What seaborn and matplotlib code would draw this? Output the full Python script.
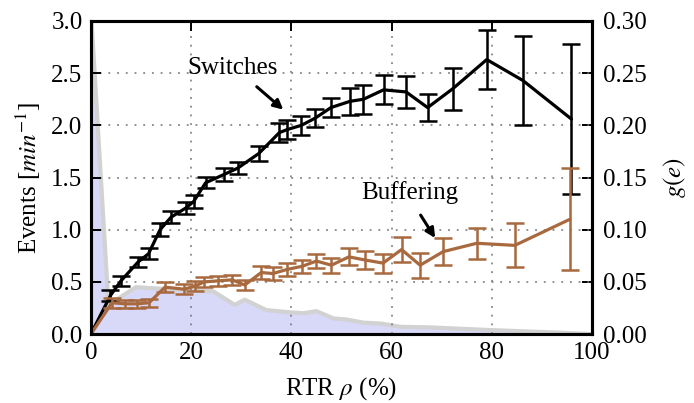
import numpy as np
import pandas as pd
import matplotlib
matplotlib.use("Agg")
import matplotlib.pyplot as plt
import seaborn as sns

# ---- data ----
sw_x = [0, 3.9, 6.0, 9.4, 11.5, 13.8, 16.0, 19.0, 20.5, 22.9, 26.6, 29.3, 33.5,
        37.6, 39.2, 42.0, 44.8, 47.9, 51.7, 54.4, 58.4, 62.9, 67.2, 72.2, 79.0, 86.2, 95.9]
sw_y = [0, 0.37, 0.51, 0.69, 0.77, 1.00, 1.12, 1.21, 1.27, 1.45, 1.53, 1.59, 1.73,
        1.93, 1.96, 2.00, 2.07, 2.17, 2.23, 2.25, 2.34, 2.32, 2.17, 2.35, 2.63, 2.43, 2.06]
sw_e = [0, 0.05, 0.05, 0.05, 0.05, 0.06, 0.06, 0.06, 0.06, 0.055, 0.06, 0.06, 0.075,
        0.09, 0.09, 0.09, 0.09, 0.09, 0.13, 0.14, 0.14, 0.15, 0.13, 0.20, 0.28, 0.43, 0.72]

bu_x = [0, 4.2, 6.9, 9.2, 11.6, 14.8, 18.6, 20.8, 22.6, 25.3, 28.2, 30.7, 34.0, 36.3,
        39.2, 42.2, 45.0, 48.0, 51.5, 54.7, 58.3, 62.0, 65.7, 70.3, 77.0, 84.6, 95.6]
bu_y = [0, 0.30, 0.29, 0.29, 0.30, 0.45, 0.43, 0.46, 0.50, 0.51, 0.52, 0.47, 0.59, 0.58,
        0.62, 0.65, 0.70, 0.66, 0.74, 0.71, 0.68, 0.81, 0.66, 0.79, 0.87, 0.85, 1.10]
bu_e = [0, 0.05, 0.04, 0.04, 0.04, 0.05, 0.05, 0.05, 0.05, 0.05, 0.05, 0.05, 0.06, 0.06,
        0.06, 0.06, 0.07, 0.07, 0.08, 0.09, 0.09, 0.12, 0.12, 0.13, 0.15, 0.21, 0.49]

ge_x = [0, 3.5, 9.0, 12.0, 20.0, 24.4, 28.7, 30.7, 35.0, 39.4, 42.4, 45.0, 48.4, 51.0,
        54.4, 58.0, 61.7, 67.7, 79.0, 94.0, 100.0]
ge_y = [0.31, 0.028, 0.045, 0.044, 0.042, 0.041, 0.028, 0.033, 0.023, 0.021, 0.020, 0.022,
        0.015, 0.014, 0.011, 0.010, 0.007, 0.0064, 0.004, 0.0013, 0.0]

x_ticks = [0, 20, 40, 60, 80, 100]
yl_ticks = [0.0, 0.5, 1.0, 1.5, 2.0, 2.5, 3.0]
yr_ticks = [0.00, 0.05, 0.10, 0.15, 0.20, 0.25, 0.30]

sw = pd.DataFrame({"x": sw_x, "y": sw_y, "e": sw_e})
bu = pd.DataFrame({"x": bu_x, "y": bu_y, "e": bu_e})
ge = pd.DataFrame({"x": ge_x, "g": ge_y})

# ---- style ----
sns.set_style("white")
plt.rcParams["font.family"] = ["Liberation Serif", "DejaVu Serif"]
plt.rcParams["mathtext.fontset"] = "stix"
for k in ("text.color", "axes.labelcolor", "xtick.color", "ytick.color"):
    plt.rcParams[k] = "black"
FS = 18
plt.rcParams["font.size"] = FS

BROWN = "#a8693f"
FILL = "#d8d8f8"
EDGE = "#d2d2d2"

fig = plt.figure(figsize=(6.94, 4.03), dpi=100)
ax = fig.add_axes([0.131, 0.171, 0.722, 0.777])
ax2 = ax.twinx()

# density on right axis
ax2.fill_between(ge["x"], 0, ge["g"], color=FILL, lw=0)
sns.lineplot(data=ge, x="x", y="g", ax=ax2, color=EDGE, lw=3, sort=False)
ax2.set_ylim(0, 0.30)
ax2.set_yticks(yr_ticks)
ax2.set_yticklabels([f"{v:.2f}" for v in yr_ticks])
ax2.set_ylabel("$g(e)$", fontsize=FS, labelpad=10)

# events on left axis (drawn above)
ax.set_zorder(ax2.get_zorder() + 1)
ax.patch.set_visible(False)

sns.lineplot(data=sw, x="x", y="y", ax=ax, color="black", lw=2.3, sort=False)
ax.errorbar(sw["x"][1:], sw["y"][1:], yerr=sw["e"][1:], fmt="none", ecolor="black",
            elinewidth=1.8, capsize=6.5, capthick=1.8)
sns.lineplot(data=bu, x="x", y="y", ax=ax, color=BROWN, lw=2.3, sort=False)
ax.errorbar(bu["x"][1:], bu["y"][1:], yerr=bu["e"][1:], fmt="none", ecolor=BROWN,
            elinewidth=1.8, capsize=6.5, capthick=1.8)

ax.set_xlim(0, 100)
ax.set_ylim(0, 3.0)
ax.set_xticks(x_ticks)
ax.set_yticks(yl_ticks)
ax.set_yticklabels([f"{v:.1f}" for v in yl_ticks])
ax.set_xlabel(r"RTR $\rho$ (%)", fontsize=FS, labelpad=8)
ax.set_ylabel(r"Events [$min^{-1}$]", fontsize=FS, labelpad=6)

ax.grid(True, linestyle=(0, (1.2, 4.5)), color="0.45", lw=1.1)

for a in (ax, ax2):
    for s in a.spines.values():
        s.set_linewidth(2.2)
        s.set_color("black")
ax.tick_params(direction="in", length=7, width=1.4, top=True, labelsize=FS, pad=6,
               colors="black")
ax2.tick_params(direction="in", length=7, width=1.4, labelsize=FS, pad=8, colors="black")

# annotations
ax.text(28.2, 2.55, "Switches", ha="center", va="center", fontsize=FS)
ax.annotate("", xy=(38.4, 2.15), xytext=(33.1, 2.37),
            arrowprops=dict(arrowstyle="-|>", color="black", lw=2.2, shrinkA=0, shrinkB=0,
                            mutation_scale=14))
ax.text(63.6, 1.36, "Buffering", ha="center", va="center", fontsize=FS)
ax.annotate("", xy=(68.7, 0.92), xytext=(65.8, 1.14),
            arrowprops=dict(arrowstyle="-|>", color="black", lw=2.2, shrinkA=0, shrinkB=0,
                            mutation_scale=14))

fig.savefig("out.png", dpi=100)
